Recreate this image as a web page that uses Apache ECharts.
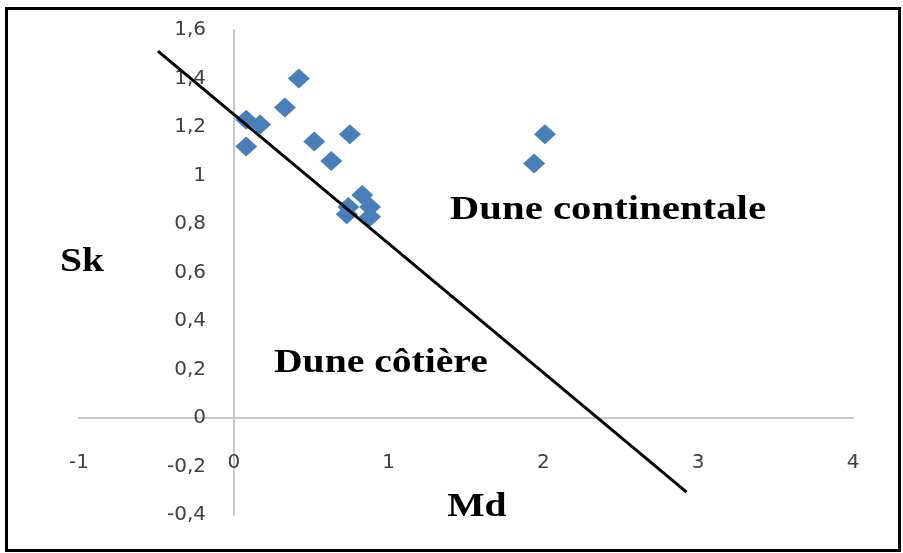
<!DOCTYPE html>
<html>
<head>
<meta charset="utf-8">
<script src="https://cdn.jsdelivr.net/npm/echarts@6/dist/echarts.min.js"></script>
<style>
  html, body { margin: 0; padding: 0; background: #fff; }
  #chart { width: 903px; height: 553px; }
</style>
</head>
<body>
<div id="chart"></div>
<script>
// Md (median grain size) and Sk (skewness) of the sampled dune sands
const mdValues = [0.42, 0.33, 0.08, 0.17, 0.08, 0.52, 0.75, 0.63, 0.83, 0.74, 0.88, 0.73, 0.88, 1.94, 2.01];
const skValues = [1.40, 1.28, 1.23, 1.21, 1.12, 1.14, 1.17, 1.06, 0.92, 0.87, 0.87, 0.84, 0.83, 1.05, 1.17];

// Dividing line between the two dune types (end points, Md / Sk)
const boundaryMd = [-0.49, 2.925];
const boundarySk = [1.513, -0.306];

// Axis ranges and tick steps
const xTicks = { min: -1, max: 4, step: 1 };
const yTicks = { min: -0.4, max: 1.6, step: 0.2 };

// Texts written on the plot
const xName = 'Md';
const yName = 'Sk';
const zoneContinental = 'Dune continentale';
const zoneCoastal = 'Dune côtière';

const points = mdValues.map((m, i) => [m, skValues[i]]);
const boundary = boundaryMd.map((m, i) => [m, boundarySk[i]]);

const fmt = v => String(+v.toFixed(1)).replace('.', ',');

const chart = echarts.init(document.getElementById('chart'), null, { renderer: 'canvas' });

const axisLabelStyle = {
  fontFamily: 'DejaVu Sans',
  fontSize: 20,
  color: '#404040'
};

// Tick labels sit just off the zero lines rather than at the plot edges
chart.setOption({
  animation: false,
  backgroundColor: '#fff',
  grid: { left: 79, right: 50, top: 30, bottom: 38, outerBoundsMode: 'none' },
  xAxis: {
    type: 'value',
    min: xTicks.min, max: xTicks.max, interval: xTicks.step,
    splitLine: { show: false },
    axisTick: { show: false },
    axisLine: { show: true, onZero: true, lineStyle: { color: '#c8c8c8', width: 2 } },
    axisLabel: Object.assign({ margin: -62, formatter: fmt }, axisLabelStyle)
  },
  yAxis: {
    type: 'value',
    min: yTicks.min, max: yTicks.max, interval: yTicks.step,
    splitLine: { show: false },
    axisTick: { show: false },
    axisLine: { show: true, onZero: true, lineStyle: { color: '#c8c8c8', width: 2 } },
    axisLabel: Object.assign({ margin: -127, formatter: fmt }, axisLabelStyle)
  },
  series: [
    {
      type: 'scatter',
      data: points,
      symbol: 'diamond',
      symbolSize: [22, 20],
      itemStyle: { color: '#4a7ebb', opacity: 1 },
      z: 2
    },
    {
      type: 'line',
      data: boundary,
      showSymbol: false,
      symbol: 'none',
      lineStyle: { color: '#000', width: 3 },
      z: 3
    }
  ]
});

// Region and axis names, placed at data positions and stretched like the tick font
const notes = [
  { text: yName, at: [-0.98, 0.643], size: 33 },
  { text: xName, at: [1.57, -0.371], size: 33 },
  { text: zoneContinental, at: [2.417, 0.858], size: 34 },
  { text: zoneCoastal, at: [0.95, 0.223], size: 33 }
];

const graphics = notes.map(n => {
  const p = chart.convertToPixel({ gridIndex: 0 }, n.at);
  return {
    type: 'text',
    x: p[0], y: p[1],
    scaleX: 1.2,
    style: {
      text: n.text,
      fontFamily: 'Liberation Serif',
      fontWeight: 'bold',
      fontSize: n.size,
      fill: '#000',
      align: 'center',
      verticalAlign: 'middle'
    },
    z: 10
  };
});

// Frame round the whole figure
graphics.push({
  type: 'rect',
  shape: { x: 6.5, y: 8.5, width: 893, height: 542 },
  style: { fill: null, stroke: '#000', lineWidth: 3 },
  z: 11
});

chart.setOption({ graphic: graphics });
</script>
</body>
</html>
